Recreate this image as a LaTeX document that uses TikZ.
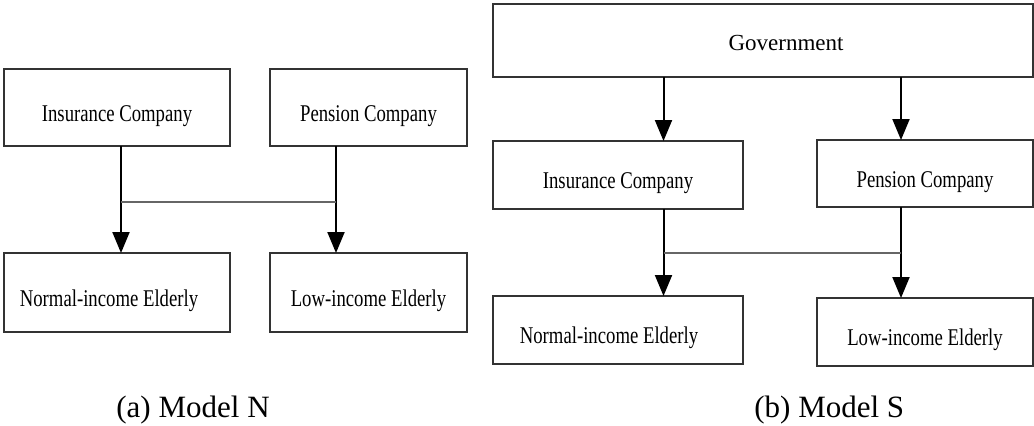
\documentclass[tikz,border=0pt]{standalone}
\usepackage{fontspec}
\setmainfont{Liberation Serif}
\newfontfamily\boxfont[FakeStretch=0.78]{Liberation Serif}
\usetikzlibrary{calc,positioning}
\usetikzlibrary{arrows.meta}
\newcommand{\boxtext}{\boxfont\fontsize{12pt}{14pt}\selectfont}
\newcommand{\govtext}{\rmfamily\fontsize{11.5pt}{14pt}\selectfont}
\newcommand{\captext}{\fontsize{15.5pt}{18pt}\selectfont}
\newcommand{\boxline}{0.8pt}
\newcommand{\arrline}{1pt}
\newcommand{\levelN}{202}
\newcommand{\levelS}{253}

\begin{document}
\begin{tikzpicture}[x=0.5pt,y=-0.5pt]

%% styles
\tikzstyle{box}=[draw=black!80,line width=\boxline,outer sep=0pt,inner sep=0pt,anchor=north west,font=\boxtext,text height=13.5pt,text depth=0pt]
\tikzstyle{arr}=[line width=\arrline,-{Triangle[width=8.5pt,length=10.5pt]}]
\tikzstyle{link}=[draw=black!60,line width=0.9pt]

\useasboundingbox (0,0) rectangle (1034,425);

%% (a) model N, four boxes
\node (insN) [box, minimum width=113pt, minimum height=38.5pt] at (4,69) {Insurance Company};
\node (penN) [box, minimum width=98.5pt, minimum height=38.5pt] at (270,69) {Pension Company};
\node (norN) [box, minimum width=113pt, minimum height=39.5pt] at (4,253) {\hspace*{-8pt}Normal-income Elderly};
\node (lowN) [box, minimum width=98.5pt, minimum height=39.5pt] at (270,253) {Low-income Elderly};

%% arrow columns and crossing level
\coordinate (colNa) at (121,0);
\coordinate (colNb) at (336,0);
\coordinate (midN) at (0,\levelN);

\draw[arr] (insN.south -| colNa) -- (norN.north -| colNa);
\draw[arr] (penN.south -| colNb) -- (lowN.north -| colNb);
\draw[link] (colNa |- midN) -- (colNb |- midN);

%% (b) model S, government on top
\node (govS) [box, minimum width=270pt, minimum height=36.5pt, font=\govtext, text height=9.5pt] at (493,4) {\hspace*{23pt}Government};
\node (insS) [box, minimum width=125pt, minimum height=34pt] at (493,141) {Insurance Company};
\node (penS) [box, minimum width=108pt, minimum height=33.5pt] at (817,140) {Pension Company};
\node (norS) [box, minimum width=125pt, minimum height=34pt] at (493,296) {\hspace*{-9pt}Normal-income Elderly};
\node (lowS) [box, minimum width=108pt, minimum height=34pt] at (817,298) {Low-income Elderly};

\coordinate (colSa) at (663.5,0);
\coordinate (colSb) at (901,0);
\coordinate (midS) at (0,\levelS);

\draw[arr] (govS.south -| colSa) -- (insS.north -| colSa);
\draw[arr] (govS.south -| colSb) -- (penS.north -| colSb);
\draw[arr] (insS.south -| colSa) -- (norS.north -| colSa);
\draw[arr] (penS.south -| colSb) -- (lowS.north -| colSb);
\draw[link] (colSa |- midS) -- (colSb |- midS);

%% captions
\node (capN) [anchor=base west,inner sep=0pt,font=\captext] at (116,417) {(a) Model N};
\node (capS) [anchor=base west,inner sep=0pt,font=\captext] at (754,417) {(b) Model S};

\end{tikzpicture}
\end{document}
